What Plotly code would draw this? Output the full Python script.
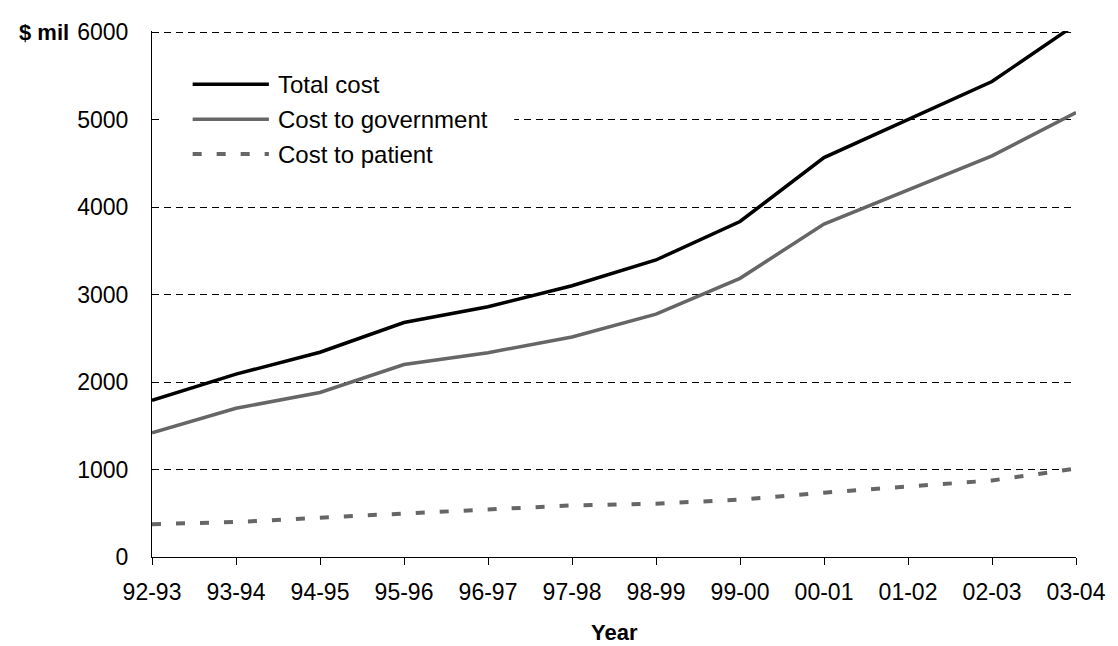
import plotly.graph_objects as go

# Financial years
years = ["92-93", "93-94", "94-95", "95-96", "96-97", "97-98",
         "98-99", "99-00", "00-01", "01-02", "02-03", "03-04"]

# Costs in $ million
total_cost = [1790, 2090, 2340, 2680, 2860, 3100, 3395, 3835, 4565, 5000, 5435, 6090]
gov_cost = [1420, 1700, 1880, 2200, 2335, 2515, 2775, 3185, 3805, 4195, 4585, 5080]
patient_cost = [375, 400, 450, 495, 545, 590, 610, 655, 735, 810, 875, 1010]

y_ticks = [0, 1000, 2000, 3000, 4000, 5000, 6000]

FONT = "Liberation Sans, Arial, sans-serif"
GREY = "#666666"

series = [
    ("Total cost", total_cost, dict(color="black", width=3.5, dash="solid")),
    ("Cost to government", gov_cost, dict(color=GREY, width=3.5, dash="solid")),
    ("Cost to patient", patient_cost, dict(color=GREY, width=4, dash="9px,15px")),
]

fig = go.Figure()
for name, vals, line in series:
    fig.add_trace(go.Scatter(x=list(range(len(years))), y=vals, mode="lines",
                             name=name, line=line, showlegend=False,
                             hoverinfo="skip"))

fig.update_layout(
    width=1118, height=646,
    margin=dict(l=152, r=33, t=31, b=89),
    paper_bgcolor="white", plot_bgcolor="white",
    font=dict(family=FONT, size=22, color="black"),
)

fig.update_xaxes(
    range=[0, len(years) - 1],
    tickvals=list(range(len(years))), ticktext=years,
    showline=True, linecolor="black", linewidth=1,
    ticks="outside", ticklen=7, tickcolor="black", tickwidth=1,
    showgrid=False, zeroline=False,
    tickfont=dict(size=23), ticklabelstandoff=7,
)

fig.update_yaxes(
    range=[0, 6012], tickvals=y_ticks,
    showline=True, linecolor="black", linewidth=1,
    ticks="", showgrid=True, gridcolor="black", gridwidth=1,
    griddash="7px,5px", zeroline=False,
    tickfont=dict(size=23), ticklabelstandoff=18,
)

# Axis titles
fig.add_annotation(text="<b>Year</b>", xref="paper", yref="paper",
                   x=0.5, y=-0.143, xanchor="center", yanchor="middle",
                   showarrow=False, font=dict(size=22))
fig.add_annotation(text="<b>$ mil</b>", xref="paper", yref="paper",
                   x=-0.088, y=0.998, xanchor="right", yanchor="middle",
                   showarrow=False, font=dict(size=22))

# Legend box with long line samples
fig.add_shape(type="rect", xref="paper", yref="paper",
              x0=0.0086, x1=0.392, y0=0.70, y1=0.975,
              fillcolor="white", line=dict(width=0), layer="above")
rows_y = [0.899, 0.832, 0.766]
for (name, _, line), ry in zip(series, rows_y):
    fig.add_shape(type="line", xref="paper", yref="paper",
                  x0=0.044, x1=0.1265, y0=ry, y1=ry,
                  line=line, layer="above")
    fig.add_annotation(text=name, xref="paper", yref="paper",
                       x=0.134, y=ry, xanchor="left", yanchor="middle",
                       showarrow=False, font=dict(size=24))

fig.write_html("out.html")
